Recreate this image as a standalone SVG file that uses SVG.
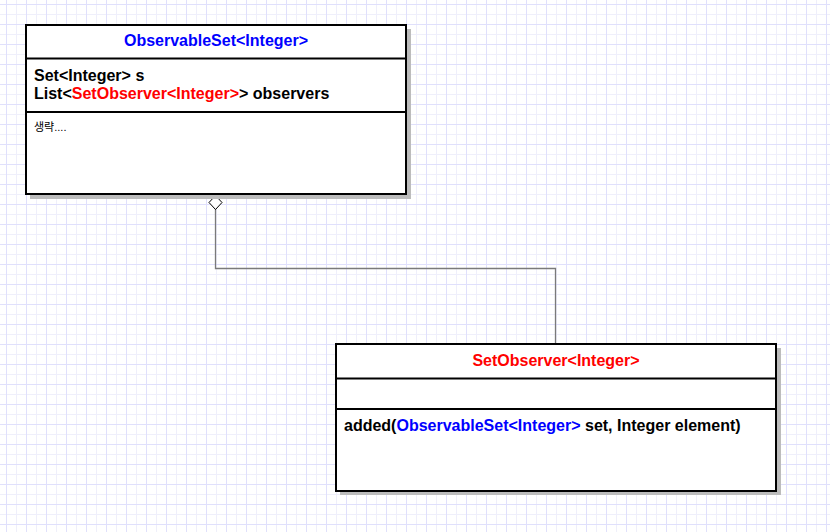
<svg xmlns="http://www.w3.org/2000/svg" width="830" height="532" viewBox="0 0 830 532">
  <defs>
    <pattern id="grid" x="0" y="0" width="20" height="20" patternUnits="userSpaceOnUse">
      <line x1="16.5" y1="0" x2="16.5" y2="20" stroke="#efeffb" stroke-width="1"/>
      <line x1="0" y1="14.5" x2="20" y2="14.5" stroke="#efeffb" stroke-width="1"/>
      <line x1="6.5" y1="0" x2="6.5" y2="20" stroke="#e0e0fc" stroke-width="1"/>
      <line x1="0" y1="4.5" x2="20" y2="4.5" stroke="#e0e0fc" stroke-width="1"/>
    </pattern>
  </defs>
  <style>
    .box { fill: #ffffff; stroke: #000000; stroke-width: 2; }
    .shadow { fill: #bcbcbc; }
    .sep { stroke: #000000; stroke-width: 2; }
    .t { font-family: "Liberation Sans", Arial, Helvetica, sans-serif; font-size: 16px; font-weight: bold; fill: #000000; }
    .small { font-family: "Liberation Sans", "Noto Sans CJK KR", sans-serif; font-size: 11px; fill: #000000; }
    .red { fill: #ff0000; }
    .blue { fill: #0000ff; }
    .conn { fill: none; stroke: #7a7a7a; stroke-width: 1.3; }
    .diamond { fill: #ffffff; stroke: #000000; stroke-width: 1; }
  </style>
  <rect x="0" y="0" width="830" height="532" fill="#ffffff"/>
  <rect x="0" y="0" width="830" height="532" fill="url(#grid)"/>

  <g id="connectors">
    <path class="conn" d="M215.5,209 V268.5 H555.5 V343"/>
    <polygon class="diamond" points="215.5,195.5 222,202.5 215.5,209.5 209,202.5"/>
  </g>

  <g id="node-observable-set">
    <rect class="shadow" x="30" y="29" width="381" height="170"/>
    <rect class="box" x="26" y="25" width="380" height="169"/>
    <line class="sep" x1="26" y1="58.5" x2="406" y2="58.5"/>
    <line class="sep" x1="26" y1="112" x2="406" y2="112"/>
    <text class="t blue" x="216" y="46" text-anchor="middle">ObservableSet&lt;Integer&gt;</text>
    <text class="t" x="34" y="81">Set&lt;Integer&gt; s</text>
    <text class="t" x="34" y="99">List&lt;<tspan class="red">SetObserver&lt;Integer&gt;</tspan>&gt; observers</text>
    <text class="small" x="34" y="131">생략....</text>
  </g>

  <g id="node-set-observer">
    <rect class="shadow" x="340" y="348" width="441" height="147"/>
    <rect class="box" x="336" y="344" width="440" height="147"/>
    <line class="sep" x1="336" y1="378.5" x2="776" y2="378.5"/>
    <line class="sep" x1="336" y1="409" x2="776" y2="409"/>
    <text class="t red" x="556" y="366" text-anchor="middle">SetObserver&lt;Integer&gt;</text>
    <text class="t" x="344" y="431">added(<tspan class="blue">ObservableSet&lt;Integer&gt;</tspan> set, Integer element)</text>
  </g>
</svg>
